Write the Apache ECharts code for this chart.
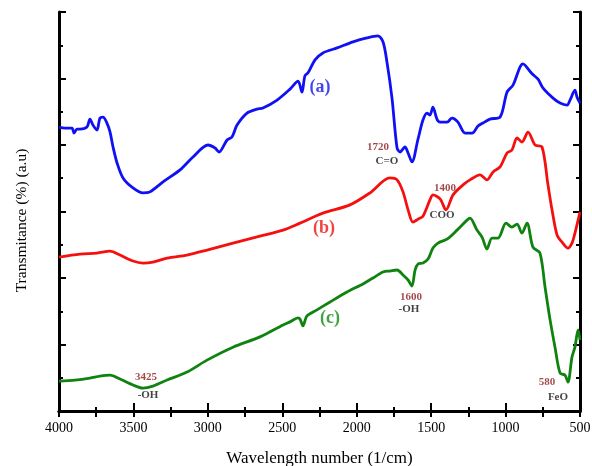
<!DOCTYPE html>
<html><head><meta charset="utf-8">
<script src="https://cdn.jsdelivr.net/npm/echarts@6/dist/echarts.min.js"></script>
<style>html,body{margin:0;padding:0;background:#fff}#c{width:592px;height:466px}</style>
</head><body><div id="c"></div>
<script>
// wavenumber (cm-1) values and transmittance (a.u.)
const blueX = [4000,3960,3913,3899,3879,3859,3812,3792,3772,3745,3725,3704,3678,3657,3637,3610,3570,3503,3436,3389,3301,3187,3100,2999,2952,2925,2871,2838,2804,2737,2670,2630,2535,2448,2394,2368,2348,2327,2280,2227,2132,2025,1931,1857,1823,1797,1763,1729,1709,1676,1655,1629,1588,1555,1528,1508,1488,1461,1440,1393,1360,1320,1272,1225,1185,1152,1105,1037,990,950,883,822,782,748,681,634,587,567,534,520,500];
const blueY = [8.54,8.51,8.51,8.36,8.48,8.48,8.54,8.78,8.60,8.45,8.81,8.84,8.66,8.39,7.94,7.46,7.01,6.71,6.56,6.59,6.89,7.25,7.64,8.00,7.91,7.79,8.15,8.24,8.60,8.96,9.08,9.11,9.35,9.68,9.92,9.59,10.08,10.17,10.56,10.77,10.92,11.10,11.22,11.28,11.10,10.50,9.41,7.91,7.79,7.94,7.76,7.49,8.18,8.75,8.96,8.90,9.14,8.78,8.69,8.69,8.81,8.69,8.36,8.36,8.57,8.66,8.78,8.84,9.59,9.80,10.44,10.14,9.98,9.71,9.41,9.26,9.20,9.35,9.65,9.44,9.26];
const redX = [4000,3859,3745,3657,3590,3503,3436,3369,3274,3140,3006,2831,2650,2495,2381,2227,2045,1911,1777,1729,1689,1655,1622,1588,1555,1508,1488,1440,1400,1353,1286,1239,1172,1125,1084,1037,990,957,923,890,849,802,755,715,688,654,621,581,554,534,500];
const redY = [4.63,4.72,4.75,4.81,4.69,4.51,4.45,4.48,4.60,4.69,4.84,5.05,5.26,5.44,5.65,5.95,6.20,6.56,7.01,6.95,6.59,6.05,5.68,5.77,5.86,6.35,6.50,6.38,6.05,6.50,6.80,6.95,7.10,6.95,7.19,7.34,7.76,7.85,8.21,8.09,8.39,8.00,7.94,6.80,6.05,5.29,5.08,4.90,5.05,5.35,5.98];
const greenX = [4000,3893,3792,3725,3657,3590,3503,3436,3369,3274,3140,3006,2831,2650,2495,2448,2394,2381,2361,2334,2267,2179,2065,1958,1891,1823,1777,1729,1689,1655,1629,1608,1588,1555,1521,1488,1454,1393,1326,1259,1239,1192,1158,1125,1091,1051,997,957,923,890,856,816,769,735,701,668,634,601,581,554,534,513,500];
const greenY = [0.90,0.93,0.99,1.05,1.08,0.96,0.78,0.69,0.75,0.93,1.17,1.53,1.92,2.23,2.59,2.68,2.80,2.77,2.56,2.86,3.04,3.28,3.58,3.82,4.00,4.18,4.21,4.24,4.09,3.94,3.76,4.24,4.42,4.45,4.57,4.90,5.05,5.17,5.44,5.74,5.80,5.44,5.23,4.87,5.20,5.20,5.65,5.53,5.62,5.35,5.65,4.93,4.75,3.73,2.74,1.92,1.14,1.08,0.87,1.62,1.92,2.44,2.14];
const xTicks = [4000,3500,3000,2500,2000,1500,1000,500];
// annotations: text, wavenumber, y, kind
const notes = [
  ['(a)',2247,9.74,'a'],['(b)',2220,5.50,'b'],['(c)',2179,2.80,'c'],
  ['1720',1857,7.94,'n'],['C=O',1797,7.52,'g'],
  ['1400',1407,6.71,'n'],['COO',1427,5.89,'g'],
  ['1600',1635,3.43,'n'],['-OH',1649,3.07,'g'],
  ['3425',3416,1.02,'n'],['-OH',3402,0.48,'g'],
  ['580',722,0.87,'n'],['FeO',648,0.42,'g']
];
const serif = 'Liberation Serif';
const noteStyle = {
  a:{color:'#1414ee',fontSize:18,fontWeight:'bold'},
  b:{color:'#ee1414',fontSize:18,fontWeight:'bold'},
  c:{color:'#148a14',fontSize:18,fontWeight:'bold'},
  n:{color:'#8b1a1a',fontSize:11,fontWeight:'bold'},
  g:{color:'#111',fontSize:11,fontWeight:'bold'}
};
const zip = (xs,ys)=>xs.map((x,i)=>[x,ys[i]]);
const tickCommon = {show:true,inside:true,length:8,lineStyle:{width:2,color:'#000'}};
const minorCommon = {show:true,splitNumber:2,length:4,lineStyle:{width:2,color:'#000'}};
const lineS = (data,color)=>({type:'line',data,showSymbol:false,symbol:'none',smooth:0.3,
  lineStyle:{color,width:2.8},silent:true,animation:false,z:3});
const chart = echarts.init(document.getElementById('c'),null,{renderer:'canvas'});
chart.setOption({
  animation:false,
  grid:{left:59,right:12,top:12,bottom:55,outerBoundsMode:'none',containLabel:false},
  xAxis:[{type:'value',inverse:true,min:500,max:4000,interval:500,
    axisLine:{lineStyle:{color:'#000',width:3}},axisTick:tickCommon,minorTick:minorCommon,
    splitLine:{show:false},
    axisLabel:{fontFamily:serif,fontSize:14,color:'#000',margin:10,
      formatter:v=>xTicks.includes(v)?String(v):''},
    name:'Wavelength number (1/cm)',nameLocation:'middle',nameGap:39,
    nameTextStyle:{fontFamily:serif,fontSize:17,color:'#000'}},
   {type:'value',inverse:true,min:500,max:4000,interval:500,position:'top',
    axisLine:{lineStyle:{color:'#000',width:3}},axisTick:{...tickCommon,length:6},minorTick:{...minorCommon,length:6},
    splitLine:{show:false},axisLabel:{show:false}}],
  yAxis:[{type:'value',min:0,max:12,interval:2,
    axisLine:{show:true,lineStyle:{color:'#000',width:3}},axisTick:{...tickCommon,length:7},minorTick:minorCommon,
    splitLine:{show:false},axisLabel:{show:false},
    name:'Transmitance (%) (a.u)',nameLocation:'middle',nameGap:29,
    nameTextStyle:{fontFamily:serif,fontSize:15.5,color:'#000',padding:[0,18,0,0]}},
   {type:'value',min:0,max:12,interval:2,position:'right',
    axisLine:{show:true,lineStyle:{color:'#000',width:3}},axisTick:{...tickCommon,length:7},minorTick:minorCommon,
    splitLine:{show:false},axisLabel:{show:false}}],
  series:[
    lineS(zip(blueX,blueY),'#1010f5'),
    lineS(zip(redX,redY),'#f51010'),
    lineS(zip(greenX,greenY),'#0f820f'),
    {type:'scatter',symbolSize:0,silent:true,z:5,
     data:notes.map(n=>({value:[n[1],n[2]],label:{show:true,position:'inside',formatter:n[0],
       fontFamily:serif,...noteStyle[n[3]]}}))}
  ]
});
</script></body></html>
